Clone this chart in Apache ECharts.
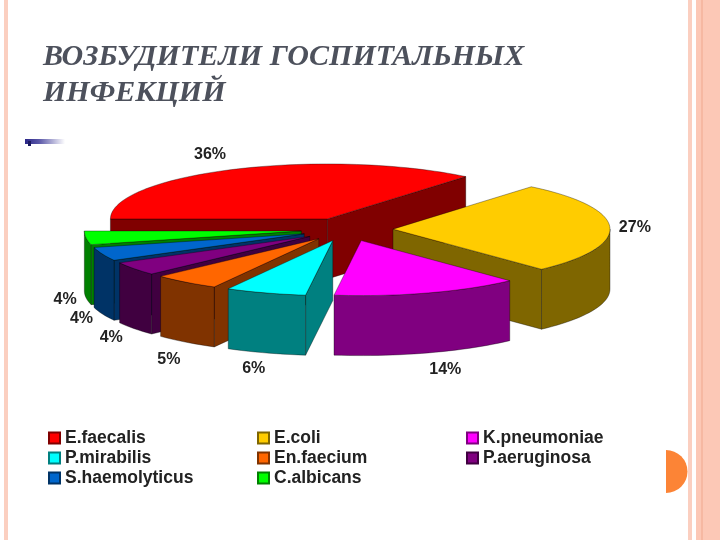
<!DOCTYPE html>
<html><head><meta charset="utf-8">
<style>html,body{margin:0;padding:0;background:#fff}#c{width:720px;height:540px}</style>
<script src="https://cdn.jsdelivr.net/npm/echarts@6/dist/echarts.min.js"></script>
</head><body><div id="c"></div>
<script>
const categories = ['E.faecalis','E.coli','K.pneumoniae','P.mirabilis','En.faecium','P.aeruginosa','S.haemolyticus','C.albicans'];
const percents = [36,27,14,6,5,4,4,4];
const topColors = ['#FF0000','#FFCC00','#FF00FF','#00FFFF','#FF6600','#800080','#0066CC','#00FF00'];
const wallColors = ['#800000','#7F6600','#800080','#008080','#803300','#400040','#003366','#008000'];
const drawOrder = [0,1,7,6,5,4,2,3];
const titleText = 'ВОЗБУДИТЕЛИ ГОСПИТАЛЬНЫХ\nИНФЕКЦИЙ';
// label nudges relative to each slice's outer-edge midpoint
const labelNudge = [[-25,-15],[25,0],[17,16.5],[-12,16],[-17,17],[-23,9],[-21,5],[-21,2]];

const cx=347, cy=229.5, rx=217, ry=55, depth=60, explode=0.212, startDeg=180;
const total = percents.reduce((a,b)=>a+b,0);
const rad = d=>d*Math.PI/180;
const edge = 'rgba(0,0,0,0.5)';

function angles(i){
  let before=0; for(let k=0;k<i;k++) before+=percents[k];
  const a0=startDeg-before/total*360, a1=a0-percents[i]/total*360;
  return [a0,a1];
}
function makeRender(i){
  return function(params,api){
    api.value(0);
    const [a0,a1]=angles(i), mid=(a0+a1)/2;
    const ax=cx+explode*rx*Math.cos(rad(mid)), ay=cy-explode*ry*Math.sin(rad(mid));
    const pt=(d,h)=>[ax+rx*Math.cos(rad(d)), ay-ry*Math.sin(rad(d))+(h||0)];
    const arc=(from,to,h)=>{const n=Math.max(2,Math.ceil(Math.abs(from-to)/2)),o=[];
      for(let k=0;k<=n;k++) o.push(pt(from+(to-from)*k/n,h)); return o;};
    const wallStyle={fill:wallColors[i],stroke:edge,lineWidth:0.7};
    const kids=[];
    // a radial wall shows only when the top face does not hide it
    [[a0,Math.cos(rad(a0))<0],[a1,Math.cos(rad(a1))>0]].forEach(([d,visible])=>{
      if(!visible) return;
      const p=pt(d);
      kids.push({type:'polygon',shape:{points:[[ax,ay],p,[p[0],p[1]+depth],[ax,ay+depth]]},style:wallStyle});
    });
    const w0=Math.min(a0,0), w1=Math.max(a1,-180);
    if(w0>w1){
      const top=arc(w0,w1,0), bot=arc(w1,w0,depth);
      kids.push({type:'polygon',shape:{points:top.concat(bot)},style:wallStyle});
    }
    kids.push({type:'polygon',shape:{points:[[ax,ay]].concat(arc(a0,a1,0))},
      style:{fill:topColors[i],stroke:edge,lineWidth:0.7}});
    const m=pt(mid, Math.sin(rad(mid))<-0.05?depth:0), nud=labelNudge[i];
    kids.push({type:'text',style:{text:percents[i]+'%',x:m[0]+nud[0],y:m[1]+nud[1],align:'center',verticalAlign:'middle',
      font:'bold 16px "Liberation Sans", Arial, sans-serif',fill:'#222'}});
    return {type:'group',children:kids};
  };
}
const series = drawOrder.map(i=>({
  type:'custom',name:categories[i],coordinateSystem:'none',animation:false,silent:true,
  itemStyle:{color:topColors[i],borderColor:wallColors[i],borderWidth:1},
  data:[[percents[i]]],renderItem:makeRender(i)
}));
const legendCol=(names,left)=>({orient:'vertical',left:left,top:429,padding:0,itemWidth:11,itemHeight:11,itemGap:2,
  icon:'rect',selectedMode:false,data:names,
  textStyle:{fontFamily:'"Liberation Sans", Arial, sans-serif',fontWeight:'bold',fontSize:17.5,color:'#222',lineHeight:18,height:18}});
const chart=echarts.init(document.getElementById('c'),null,{renderer:'canvas'});
chart.setOption({
  animation:false,backgroundColor:'#fff',
  title:{text:titleText,left:38,top:34,textStyle:{fontFamily:'"Liberation Serif", serif',fontStyle:'italic',fontWeight:'bold',fontSize:30,lineHeight:36,color:'#4d515c'}},
  legend:[
    legendCol([categories[0],categories[3],categories[6]],48),
    legendCol([categories[1],categories[4],categories[7]],257),
    legendCol([categories[2],categories[5]],466)
  ],
  series:series,
  graphic:[
    {type:'rect',silent:true,shape:{x:4,y:0,width:4,height:540},style:{fill:'#FBCFC0'}},
    {type:'rect',silent:true,shape:{x:688,y:0,width:4,height:540},style:{fill:'#FBCFC0'}},
    {type:'rect',silent:true,shape:{x:696,y:0,width:24,height:540},style:{fill:'#FCC8B6'}},
    {type:'rect',silent:true,shape:{x:701,y:0,width:2,height:540},style:{fill:'#F6B8A2'}},
    {type:'rect',silent:true,shape:{x:25,y:139,width:40,height:5},style:{fill:new echarts.graphic.LinearGradient(0,0,1,0,[{offset:0,color:'#2a2688'},{offset:0.35,color:'#5a57a8'},{offset:1,color:'#ffffff'}])}},
    {type:'rect',silent:true,shape:{x:28,y:141,width:3,height:5},style:{fill:'#1c1a60'}},
    {type:'sector',silent:true,shape:{cx:666,cy:471.5,r:21.5,r0:0,startAngle:-Math.PI/2,endAngle:Math.PI/2},style:{fill:'#FC8436'}}
  ]
});
</script></body></html>
